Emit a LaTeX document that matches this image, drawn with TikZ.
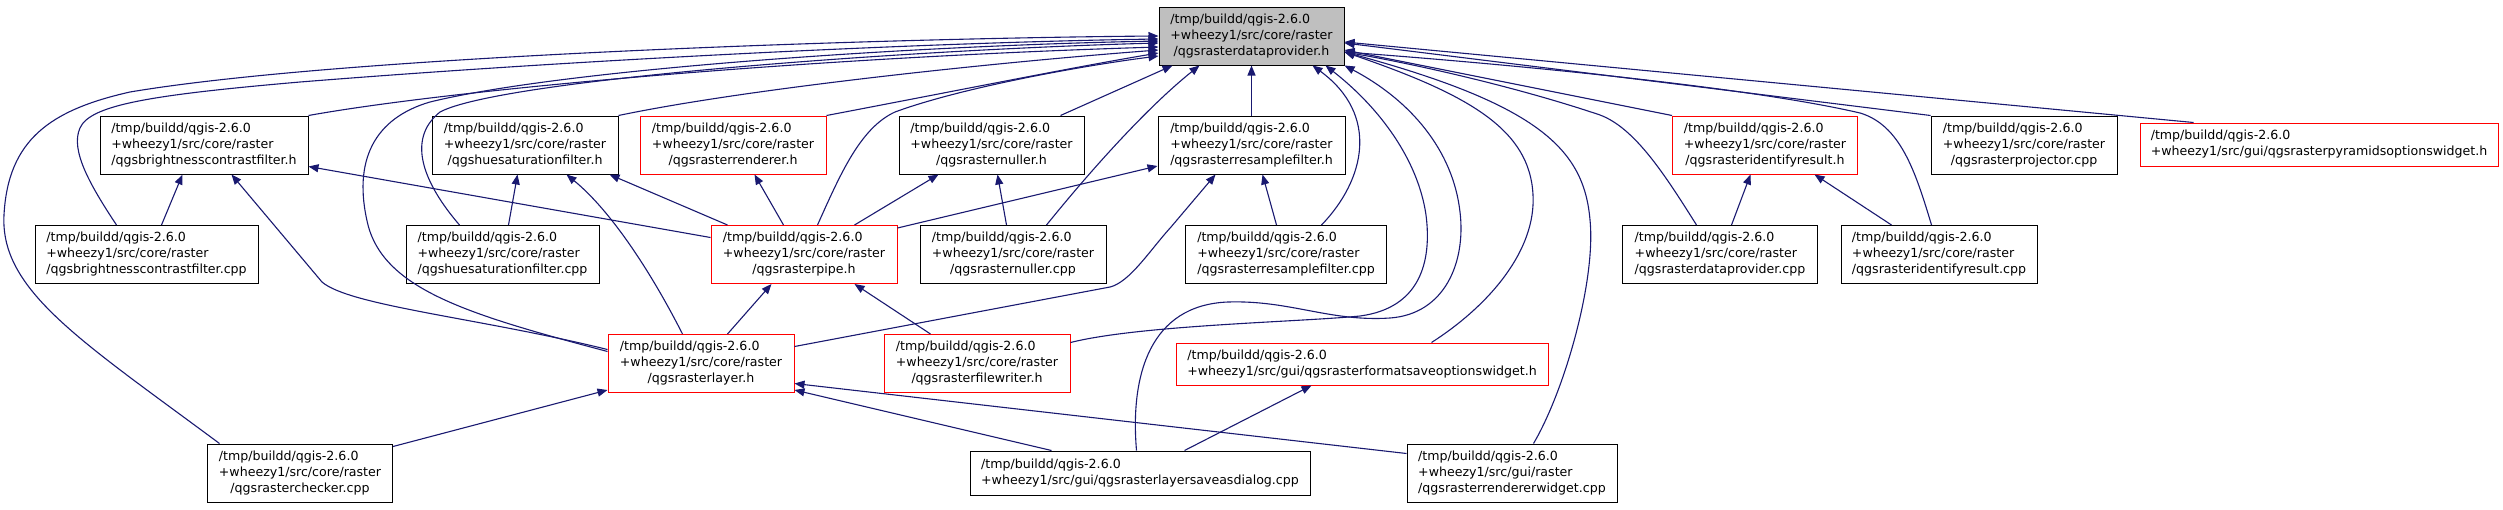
\documentclass[tikz,border=0pt]{standalone}
\usepackage{fontspec}
\setmainfont{DejaVu Sans}
\usetikzlibrary{arrows.meta,calc}
\definecolor{edgeblue}{RGB}{25,25,112}
\definecolor{nodegray}{RGB}{191,191,191}
\newcommand\threelines[3]{\begin{tabular}{@{}l@{}}#1\\#2\\\multicolumn{1}{@{}c@{}}{#3}\end{tabular}}
\newcommand\twolines[2]{\begin{tabular}{@{}l@{}}#1\\#2\end{tabular}}
\newcommand\corepath[1]{\threelines{/tmp/buildd/qgis-2.6.0}{+wheezy1/src/core/raster}{#1}}
\begin{document}
\begin{tikzpicture}[x=0.5pt,y=-0.5pt,
  nbox/.style={draw=black, line width=0.5pt, fill=white, inner sep=0pt, minimum height=29pt,
    font=\fontsize{6.3}{8}\selectfont},
  redbox/.style={nbox, draw=red},
  bw/.style={minimum width=#1*0.5pt},
  bh/.style={minimum height=#1*0.5pt},
  edge/.style={draw=edgeblue, line width=0.55pt, -{Triangle[length=5pt,width=4pt]}}]
\useasboundingbox (0,0) rectangle (2503,509);
% nodes
\node[nbox,fill=nodegray,bw=185] (main) at (1251.5,36) {\corepath{/qgsrasterdataprovider.h}};
\node[nbox,bw=208] (bcfh) at (204,145) {\corepath{/qgsbrightnesscontrastfilter.h}};
\node[nbox,bw=186] (hsfh) at (525,145) {\corepath{/qgshuesaturationfilter.h}};
\node[redbox,bw=186] (rrh) at (733,145) {\corepath{/qgsrasterrenderer.h}};
\node[nbox,bw=185] (nulh) at (991.5,145) {\corepath{/qgsrasternuller.h}};
\node[nbox,bw=187] (rsfh) at (1251.5,145) {\corepath{/qgsrasterresamplefilter.h}};
\node[redbox,bw=185] (irh) at (1765,145) {\corepath{/qgsrasteridentifyresult.h}};
\node[nbox,bw=186] (proj) at (2024,145) {\corepath{/qgsrasterprojector.cpp}};
\node[redbox,bw=358,bh=43] (pyr) at (2319,144.5) {\twolines{/tmp/buildd/qgis-2.6.0}{+wheezy1/src/gui/qgsrasterpyramidsoptionswidget.h}};
\node[nbox,bw=223] (bcfc) at (146.5,254.5) {\corepath{/qgsbrightnesscontrastfilter.cpp}};
\node[nbox,bw=193] (hsfc) at (502.5,254.5) {\corepath{/qgshuesaturationfilter.cpp}};
\node[redbox,bw=186] (pipe) at (804,254.5) {\corepath{/qgsrasterpipe.h}};
\node[nbox,bw=186] (nulc) at (1013,254.5) {\corepath{/qgsrasternuller.cpp}};
\node[nbox,bw=201] (rsfc) at (1286,254.5) {\corepath{/qgsrasterresamplefilter.cpp}};
\node[nbox,bw=195] (dpc) at (1720,254.5) {\corepath{/qgsrasterdataprovider.cpp}};
\node[nbox,bw=196] (irc) at (1939,254.5) {\corepath{/qgsrasteridentifyresult.cpp}};
\node[redbox,bw=186] (layer) at (701,363.5) {\corepath{/qgsrasterlayer.h}};
\node[redbox,bw=186] (fw) at (977,363.5) {\corepath{/qgsrasterfilewriter.h}};
\node[redbox,bw=372,bh=42] (fso) at (1362,364) {\twolines{/tmp/buildd/qgis-2.6.0}{+wheezy1/src/gui/qgsrasterformatsaveoptionswidget.h}};
\node[nbox,bw=185] (chk) at (300,473) {\corepath{/qgsrasterchecker.cpp}};
\node[nbox,bw=340,bh=44] (lsad) at (1140,473) {\twolines{/tmp/buildd/qgis-2.6.0}{+wheezy1/src/gui/qgsrasterlayersaveasdialog.cpp}};
\node[nbox,bw=210] (rw) at (1512,473) {\threelines{/tmp/buildd/qgis-2.6.0}{+wheezy1/src/gui/raster}{/qgsrasterrendererwidget.cpp}};
% edges into main, from the left
\draw[edge] ($(chk.north west)+(12.5,0)$) .. controls (80,340) and (0,290) .. (4,215)
  .. controls (8,140) and (50,110) .. (130,92) .. controls (350,55) and (900,38) .. (main.west);
\draw[edge] ($(bcfc.north west)+(82,0)$) .. controls (90,185) and (70,150) .. (80,128)
  .. controls (90,105) and (150,95) .. (300,82) .. controls (600,58) and (950,42) .. ($(main.west)+(0,3)$);
\draw[edge] (bcfh.north east) .. controls (450,90) and (800,58) .. ($(main.west)+(0,11)$);
\draw[edge] ($(layer.north west)+(0,17.5)$) .. controls (470,315) and (385,290) .. (368,225)
  .. controls (352,160) and (375,118) .. (430,102) .. controls (560,70) and (900,46) .. ($(main.west)+(0,5)$);
\draw[edge] ($(hsfc.north west)+(54,0)$) .. controls (425,185) and (405,140) .. (440,112)
  .. controls (500,80) and (900,50) .. ($(main.west)+(0,7)$);
\draw[edge] (hsfh.north east) .. controls (750,88) and (1000,62) .. ($(main.west)+(0,14)$);
\draw[edge] (rrh.north east) .. controls (950,92) and (1080,66) .. ($(main.west)+(0,17)$);
\draw[edge] ($(pipe.north west)+(107,0)$) .. controls (840,175) and (860,128) .. (895,112)
  .. controls (960,88) and (1080,66) .. ($(main.west)+(0,20)$);
% edges into main, from below
\draw[edge] ($(nulh.north west)+(162,0)$) -- ($(main.south west)+(14,0)$);
\draw[edge] ($(nulc.north west)+(127,0)$) .. controls (1095,165) and (1150,105) .. ($(main.south west)+(41,0)$);
\draw[edge] (rsfh.north) -- (main.south);
\draw[edge] ($(rsfc.north west)+(136.5,0)$) .. controls (1365,180) and (1380,115) .. ($(main.south west)+(154,0)$);
\draw[edge] ($(fw.north east)+(0,8.5)$) .. controls (1140,325) and (1300,322) .. (1360,316)
  .. controls (1420,308) and (1432,262) .. (1426,215) .. controls (1418,160) and (1380,108) .. ($(main.south west)+(167,0)$);
\draw[edge] ($(lsad.north west)+(167,0)$) .. controls (1130,375) and (1150,305) .. (1228,302)
  .. controls (1290,300) and (1330,322) .. (1390,318) .. controls (1445,314) and (1466,262) .. (1460,212)
  .. controls (1453,150) and (1410,100) .. (main.south east);
% edges into main, from the right
\draw[edge] ($(fso.north west)+(256,0)$) .. controls (1490,305) and (1536,250) .. (1533,195)
  .. controls (1530,130) and (1470,95) .. ($(main.east)+(0,16)$);
\draw[edge] ($(rw.north west)+(127,0)$) .. controls (1565,390) and (1596,280) .. (1590,220)
  .. controls (1584,150) and (1540,105) .. ($(main.east)+(0,16)$);
\draw[edge] ($(dpc.north west)+(74.5,0)$) .. controls (1665,175) and (1635,128) .. (1600,115)
  .. controls (1520,88) and (1420,65) .. ($(main.east)+(0,16)$);
\draw[edge] ($(irc.north west)+(91,0)$) .. controls (1915,170) and (1900,125) .. (1860,113)
  .. controls (1740,85) and (1480,62) .. ($(main.east)+(0,16)$);
\draw[edge] (irh.north west) -- ($(main.east)+(0,14)$);
\draw[edge] (proj.north west) -- ($(main.east)+(0,7)$);
\draw[edge] ($(pyr.north west)+(54,0)$) -- ($(main.east)+(0,6)$);
% other edges
\draw[edge] ($(bcfc.north west)+(127,0)$) -- ($(bcfh.south west)+(83,0)$);
\draw[edge] ($(layer.north west)+(0,15.5)$) .. controls (480,318) and (350,306) .. (322,282) -- ($(bcfh.south west)+(132,0)$);
\draw[edge] ($(pipe.north west)+(0,12.5)$) -- ($(bcfh.north east)+(0,51)$);
\draw[edge] ($(hsfc.north west)+(103,0)$) -- ($(hsfh.south west)+(86,0)$);
\draw[edge] ($(layer.north west)+(75,0)$) .. controls (650,270) and (610,210) .. ($(hsfh.south west)+(135,0)$);
\draw[edge] ($(pipe.north west)+(17,0)$) -- ($(hsfh.south east)+(-9,0)$);
\draw[edge] ($(pipe.north west)+(73,0)$) -- ($(rrh.south west)+(115,0)$);
\draw[edge] ($(pipe.north west)+(144,0)$) -- ($(nulh.south west)+(40,0)$);
\draw[edge] ($(nulc.north west)+(87,0)$) -- ($(nulh.south west)+(99,0)$);
\draw[edge] ($(pipe.north east)+(0,3)$) -- ($(rsfh.west)+(0,21)$);
\draw[edge] ($(layer.north east)+(0,12.5)$) -- (1110,287) .. controls (1130,282) and (1150,250) .. (1171,227) -- ($(rsfh.south west)+(58,0)$);
\draw[edge] ($(rsfc.north west)+(91.5,0)$) -- ($(rsfh.south west)+(105,0)$);
\draw[edge] ($(layer.north west)+(120,0)$) -- ($(pipe.south west)+(61,0)$);
\draw[edge] ($(fw.north west)+(47,0)$) -- ($(pipe.south west)+(144,0)$);
\draw[edge] ($(dpc.north west)+(109.5,0)$) -- ($(irh.south west)+(78.5,0)$);
\draw[edge] ($(irc.north west)+(51,0)$) -- ($(irh.south west)+(142.5,0)$);
\draw[edge] ($(chk.north east)+(0,3)$) -- ($(layer.south west)+(0,-3)$);
\draw[edge] ($(lsad.north west)+(82,0)$) -- ($(layer.south east)+(0,-3)$);
\draw[edge] ($(rw.north west)+(0,10)$) -- ($(layer.east)+(0,20)$);
\draw[edge] ($(lsad.north west)+(215,0)$) -- ($(fso.south west)+(136,0)$);
\end{tikzpicture}
\end{document}
